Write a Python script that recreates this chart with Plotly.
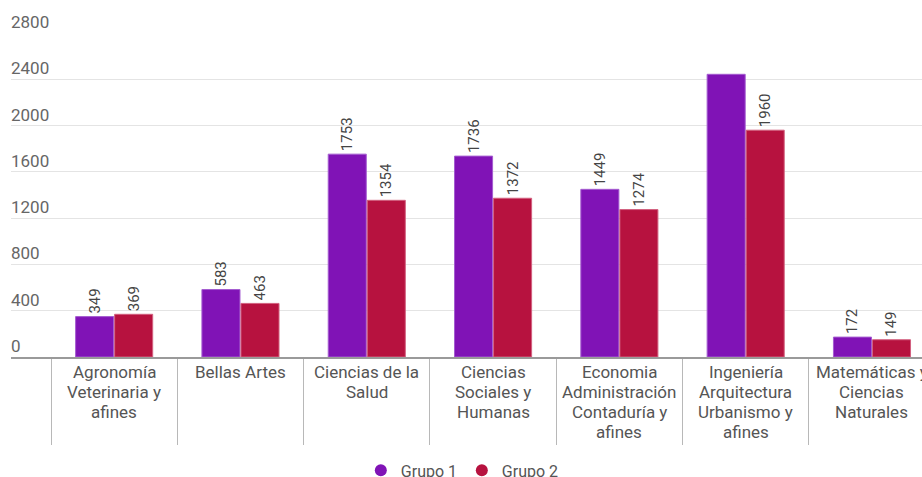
import plotly.graph_objects as go

# Categorías (etiquetas del eje X, en varias líneas)
categorias = [
    "Agronomía<br>Veterinaria y<br>afines",
    "Bellas Artes",
    "Ciencias de la<br>Salud",
    "Ciencias<br>Sociales y<br>Humanas",
    "Economia<br>Administración<br>Contaduría y<br>afines",
    "Ingeniería<br>Arquitectura<br>Urbanismo y<br>afines",
    "Matemáticas y<br>Ciencias<br>Naturales",
]
grupo1 = [349, 583, 1753, 1736, 1449, 2443, 172]
grupo2 = [369, 463, 1354, 1372, 1274, 1960, 149]
etiquetas1 = ["349", "583", "1753", "1736", "1449", "", "172"]
etiquetas2 = [str(v) for v in grupo2]
ticks_y = [0, 400, 800, 1200, 1600, 2000, 2400, 2800]

color1 = "#8013B6"
color2 = "#B7123F"
fuente = "Roboto, Arial, sans-serif"

x = list(range(len(categorias)))

fig = go.Figure()
fig.add_trace(go.Bar(
    x=x, y=grupo1, name="Grupo 1", marker=dict(color=color1, line=dict(color="#a45cd0", width=1)),
    text=etiquetas1, textposition="outside", textangle=-90,
    textfont=dict(size=15, color="#444444", family=fuente), cliponaxis=False,
    showlegend=False,
))
fig.add_trace(go.Bar(
    x=x, y=grupo2, name="Grupo 2", marker=dict(color=color2, line=dict(color="#d2607f", width=1)),
    text=etiquetas2, textposition="outside", textangle=-90,
    textfont=dict(size=15, color="#444444", family=fuente), cliponaxis=False,
    showlegend=False,
))
# Entradas de leyenda con marcador circular
for nombre, col in [("Grupo 1", color1), ("Grupo 2", color2)]:
    fig.add_trace(go.Scatter(
        x=[None], y=[None], mode="markers", name=nombre,
        marker=dict(symbol="circle", size=12, color=col),
    ))

# Etiquetas de categoría bajo el eje, una anotación por línea (interlineado fijo)
for i, cat in enumerate(categorias):
    for k, linea in enumerate(cat.split("<br>")):
        fig.add_annotation(
            x=i, y=0, xref="x", yref="y", text=linea, showarrow=False,
            yanchor="middle", yshift=-15 - 20 * k, align="center",
            font=dict(size=17, color="#555555", family=fuente),
        )

# Rótulos del eje Y, situados sobre cada línea de cuadrícula
for v in ticks_y:
    fig.add_annotation(
        x=0, y=v, xref="paper", yref="y", text=str(v), showarrow=False,
        xanchor="left", yanchor="middle", yshift=11, xshift=-2,
        font=dict(size=17, color="#666666", family=fuente),
    )

bordes = [i - 0.5 for i in range(len(categorias) + 1)]

fig.update_layout(
    width=922, height=477,
    margin=dict(l=11, r=0, t=33, b=120, autoexpand=False),
    paper_bgcolor="white", plot_bgcolor="white",
    barmode="group", bargap=0.382, bargroupgap=0.025,
    font=dict(family=fuente, color="#555555", size=16),
    legend=dict(
        orientation="h", x=0.384, xanchor="left", y=-0.35, yanchor="middle",
        font=dict(size=16, color="#555555", family=fuente),
        itemwidth=30, entrywidth=56, entrywidthmode="pixels",
    ),
    xaxis=dict(
        range=[-0.8167, 6.396], tickmode="array", tickvals=bordes,
        showticklabels=False, ticks="outside", ticklen=86, tickwidth=1,
        tickcolor="#b8b8b8", showgrid=False, zeroline=False,
        showline=True, linecolor="#9a9a9a", linewidth=1.5,
    ),
    yaxis=dict(
        range=[0, 2800], tickmode="array", tickvals=ticks_y,
        showticklabels=False,
        showgrid=True, gridcolor="#e4e4e4", gridwidth=1, zeroline=False,
        showline=False,
    ),
)

fig.write_html("out.html")
